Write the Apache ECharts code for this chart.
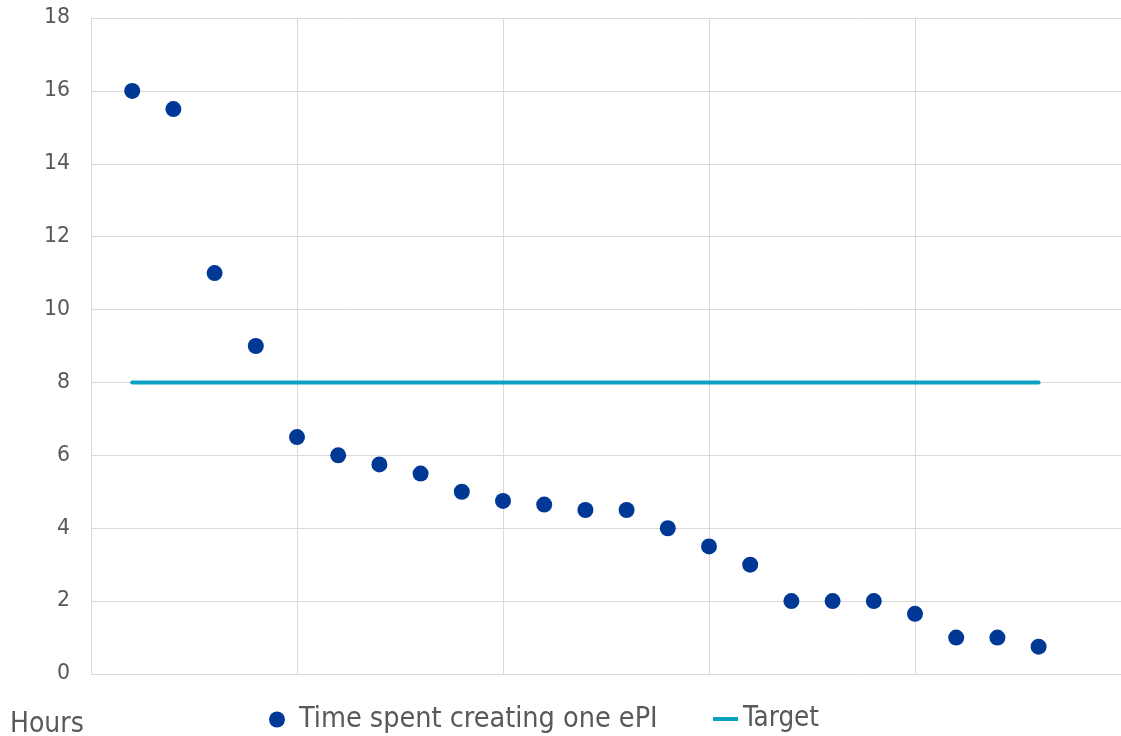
<!DOCTYPE html>
<html>
<head>
<meta charset="utf-8">
<script src="https://cdn.jsdelivr.net/npm/echarts@6/dist/echarts.min.js"></script>
<style>
  html, body { margin: 0; padding: 0; background: #ffffff; }
  #chart { width: 1121px; height: 736px; }
</style>
</head>
<body>
<div id="chart"></div>
<script>
// Sequence position of each ePI created (x) and the hours it took (y)
const positions = [1, 2, 3, 4, 5, 6, 7, 8, 9, 10, 11, 12, 13, 14, 15, 16, 17, 18, 19, 20, 21, 22, 23];
const hours = [16, 15.5, 11, 9, 6.5, 6, 5.75, 5.5, 5, 4.75, 4.65, 4.5, 4.5, 4, 3.5, 3, 2, 2, 2, 1.65, 1, 1, 0.75];
const targetHours = 8;
const yTicks = { min: 0, max: 18, step: 2 };
const xRange = { min: 0, max: 25, step: 5 };

const seriesNames = ['Time spent creating one ePI', 'Target'];
const axisTitle = 'Hours';

const FONT = "'DejaVu Sans', Verdana, sans-serif";
const FONT_NARROW = "'DejaVu Sans Condensed', 'DejaVu Sans', sans-serif";
const TEXT = '#595959';
const GRID = '#d9d9d9';

const scatterData = positions.map((x, i) => [x, hours[i]]);
const targetData = [[positions[0], targetHours], [positions[positions.length - 1], targetHours]];

const chart = echarts.init(document.getElementById('chart'), null, { renderer: 'canvas' });

chart.setOption({
  animation: false,
  backgroundColor: '#ffffff',
  textStyle: { fontFamily: FONT },
  title: {
    text: axisTitle,
    left: 10,
    top: 711,
    padding: 0,
    textStyle: { fontFamily: FONT_NARROW, fontSize: 28, fontWeight: 'normal', color: TEXT }
  },
  legend: [
    {
      data: [seriesNames[0]],
      left: 269,
      top: 705,
      padding: 0,
      itemWidth: 34,
      itemHeight: 16,
      icon: 'circle',
      textStyle: { fontFamily: FONT_NARROW, fontSize: 28.5, color: TEXT }
    },
    {
      data: [{ name: seriesNames[1], icon: 'rect' }],
      left: 713,
      top: 705,
      padding: 0,
      itemWidth: 25,
      itemHeight: 4,
      textStyle: { fontFamily: FONT_NARROW, fontSize: 27.5, color: TEXT }
    }
  ],
  grid: { left: 91, right: 0, top: 18, bottom: 62, containLabel: false },
  xAxis: {
    type: 'value',
    min: xRange.min,
    max: xRange.max,
    interval: xRange.step,
    axisLine: { show: true, lineStyle: { color: GRID, width: 1 } },
    axisTick: { show: false },
    axisLabel: { show: false },
    splitLine: { show: true, lineStyle: { color: GRID, width: 1 } }
  },
  yAxis: {
    type: 'value',
    min: yTicks.min,
    max: yTicks.max,
    interval: yTicks.step,
    axisLine: { show: true, lineStyle: { color: GRID, width: 1 } },
    axisTick: { show: false },
    axisLabel: { color: TEXT, fontFamily: FONT, fontSize: 20.5, margin: 21 },
    splitLine: { show: true, lineStyle: { color: GRID, width: 1 } }
  },
  series: [
    {
      name: seriesNames[0],
      type: 'scatter',
      data: scatterData,
      symbol: 'circle',
      symbolSize: 16,
      itemStyle: { color: '#003896', opacity: 1 },
      z: 3
    },
    {
      name: seriesNames[1],
      type: 'line',
      data: targetData,
      symbol: 'none',
      showSymbol: false,
      lineStyle: { color: '#0b9fc1', width: 4, cap: 'round' },
      itemStyle: { color: '#0b9fc1' },
      z: 2
    }
  ]
});
</script>
</body>
</html>
